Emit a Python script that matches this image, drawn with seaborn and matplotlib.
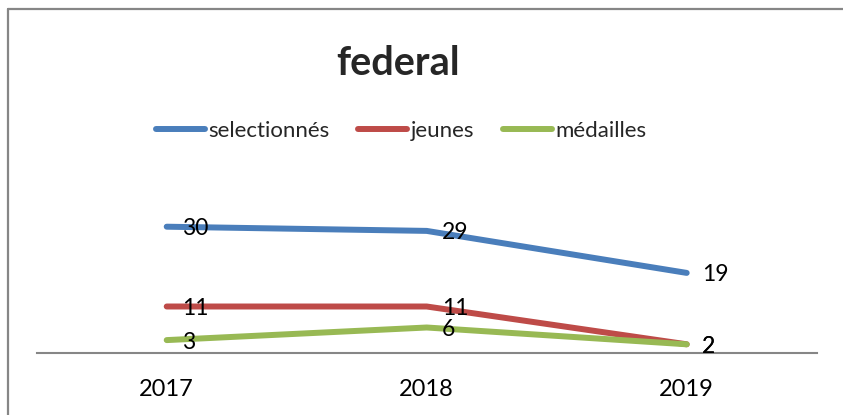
import matplotlib
matplotlib.use("Agg")
import matplotlib.pyplot as plt
from matplotlib.lines import Line2D
import seaborn as sns
import pandas as pd

years = ["2017", "2018", "2019"]
series_names = ["selectionnés", "jeunes", "médailles"]
selectionnes = [30, 29, 19]
jeunes = [11, 11, 2]
medailles = [3, 6, 2]
title = "federal"
colors = ["#4A7EBB", "#BE4B48", "#98B954"]

values = {"selectionnés": selectionnes, "jeunes": jeunes, "médailles": medailles}
rows = []
for name in series_names:
    for y, v in zip(years, values[name]):
        rows.append({"year": y, "value": v, "serie": name})
df = pd.DataFrame(rows)

sns.set_style("white")
plt.rcParams["font.family"] = ["Lato", "DejaVu Sans"]

W, H = 843, 415
fig = plt.figure(figsize=(W / 100, H / 100), dpi=100)
ax_left, ax_right = 36.7, 816.7
ax_bottom, ax_top = 352.7, 184.7
ax = fig.add_axes([ax_left / W, (H - ax_bottom) / H,
                   (ax_right - ax_left) / W, (ax_bottom - ax_top) / H])

sns.lineplot(data=df, x="year", y="value", hue="serie", hue_order=series_names,
             palette=colors, linewidth=4.3, sort=False, ax=ax, legend=False,
             solid_capstyle="round", solid_joinstyle="round")

for name in series_names:
    for i, v in enumerate(values[name]):
        ax.annotate(str(v), (i, v), xytext=(11, 0), textcoords="offset points",
                    va="center_baseline", ha="left", fontsize=16.5, color="black")

ax.set_xlim(-0.5, 2.5)
ax.set_ylim(0, 40)
ax.set_xlabel("")
ax.set_ylabel("")
ax.set_yticks([])
for s in ["top", "right", "left"]:
    ax.spines[s].set_visible(False)
ax.spines["bottom"].set_color("#868686")
ax.spines["bottom"].set_linewidth(1.5)
ax.tick_params(axis="x", length=0, pad=19, labelsize=17, colors="black")
ax.patch.set_alpha(0)

# title
fig.text(398 / W, 1 - 75 / H, title, ha="center", va="baseline",
         fontsize=28.5, fontweight="bold")

# legend
handles = [Line2D([0], [0], color=c, lw=4.3, solid_capstyle="round") for c in colors]
fig.legend(handles, series_names, loc="center", bbox_to_anchor=(401 / W, 1 - 131 / H),
           ncol=3, frameon=False, fontsize=16, handlelength=2.2, handletextpad=0.15,
           columnspacing=1.3, borderaxespad=0, borderpad=0)

# chart frame (top and left visible)
fig.add_artist(Line2D([8 / W, 1], [1 - 9 / H, 1 - 9 / H], transform=fig.transFigure,
                      color="#868686", lw=1.6))
fig.add_artist(Line2D([8 / W, 8 / W], [0, 1 - 9 / H], transform=fig.transFigure,
                      color="#868686", lw=1.6))

fig.savefig("out.png", dpi=100)
